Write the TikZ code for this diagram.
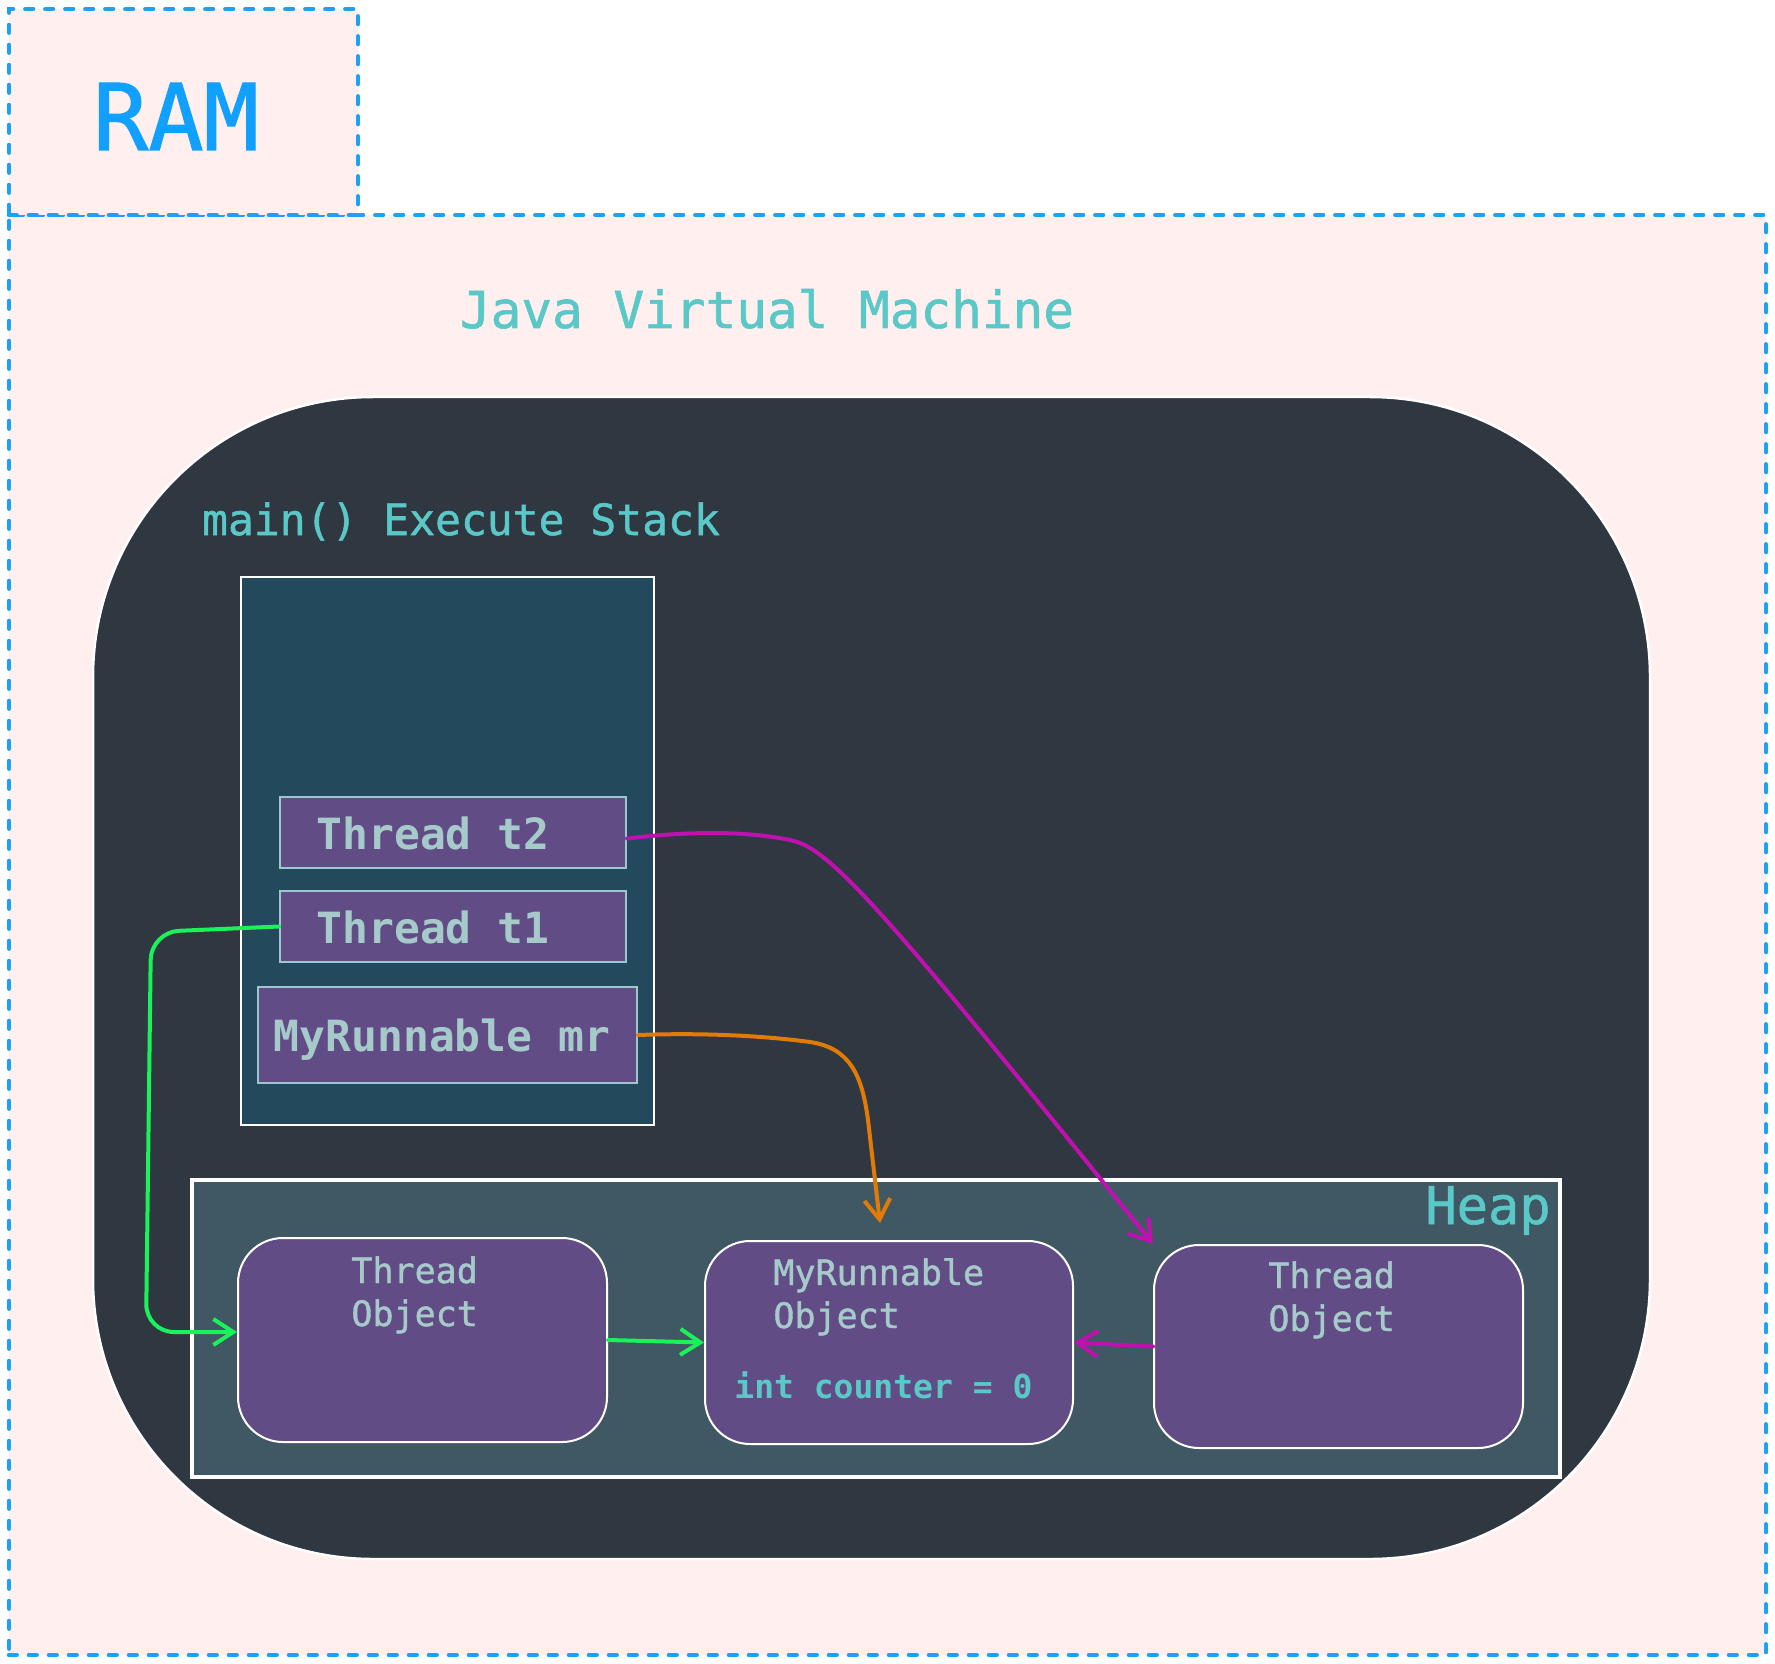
\documentclass[tikz,border=0pt]{standalone}
\usepackage{fontspec}
\setmonofont{DejaVu Sans Mono}
\newfontfamily\medmono[FakeBold=1.2]{DejaVu Sans Mono}
\usetikzlibrary{fit,arrows.meta,calc}
\definecolor{dashblue}{HTML}{1BA1F5}
\definecolor{ramblue}{HTML}{12A0FF}
\definecolor{pinkbg}{HTML}{FFEFEF}
\definecolor{coredark}{HTML}{2F3740}
\definecolor{stackblue}{HTML}{23495D}
\definecolor{purp}{HTML}{624C86}
\definecolor{varborder}{HTML}{9CC8CC}
\definecolor{lighttxt}{HTML}{A6CACA}
\definecolor{tealtxt}{HTML}{5BC8C8}
\definecolor{heapfill}{HTML}{3F5864}
\definecolor{refgreen}{HTML}{1AF25A}
\definecolor{refmagenta}{HTML}{C010B0}
\definecolor{reforange}{HTML}{E27A06}
\begin{document}
\begin{tikzpicture}[x=0.5pt,y=-0.5pt,
  dashbox/.style={draw=dashblue, fill=pinkbg, line width=2.3pt, dash pattern=on 3.8pt off 6.2pt, line cap=round, inner sep=0},
  core/.style={draw=white, fill=coredark, line width=1.25pt, rounded corners=140pt, inner sep=0},
  stackbox/.style={draw=white, fill=stackblue, line width=1pt, inner sep=0},
  varbox/.style={draw=varborder, fill=purp, line width=1pt, inner sep=0},
  heapbox/.style={draw=white, fill=heapfill, line width=2pt, inner sep=0},
  objbox/.style={draw=white, fill=purp, line width=1pt, rounded corners=22.5pt, inner sep=0},
  lbl/.style={text=lighttxt, font=\ttfamily\bfseries\fontsize{21.5}{26}\selectfont, inner sep=0},
  objlbl/.style={text=lighttxt, font=\medmono\fontsize{17.5}{21}\selectfont, inner sep=0},
  hdr/.style={text=tealtxt, inner sep=0},
  refarrow/.style={line width=2pt, line cap=round, -{Straight Barb[length=10pt,width=13pt]}}
]
\path[use as bounding box, fill=white] (0,0) rectangle (1775,1663);

% outer boxes
\node[dashbox, fit={(9,215)(1766,1655)}] (jvm) {};
\node[dashbox, fit={(9,9)(358,215)}] (ram) {};
\node[anchor=base, text=ramblue, inner sep=0, font=\medmono\fontsize{46}{50}\selectfont] (ramtxt) at (176,150) {RAM};
\node[hdr, anchor=base, font=\medmono\fontsize{25.5}{30}\selectfont] (jvmtxt) at (767,328) {Java Virtual Machine};

% JVM core
\node[core, fit={(93,397)(1650,1559)}] (core) {};
\node[hdr, anchor=base, font=\medmono\fontsize{21.5}{26}\selectfont] (stacktxt) at (461,535) {main() Execute Stack};

% stack
\node[stackbox, fit={(241,577)(654,1125)}] (stack) {};
\node[varbox, fit={(280,797)(626,868)}] (t2) {};
\node[varbox, fit={(280,891)(626,962)}] (t1) {};
\node[varbox, fit={(258,987)(637,1083)}] (mr) {};
\node[lbl, anchor=base] (t2txt) at (433,849) {Thread t2};
\node[lbl, anchor=base] (t1txt) at (433,943) {Thread t1};
\node[lbl, anchor=base] (mrtxt) at (442,1051) {MyRunnable mr};

% heap
\node[heapbox, fit={(192,1180)(1560,1477)}] (heap) {};
\node[hdr, anchor=base east, font=\medmono\fontsize{26}{30}\selectfont] (heaptxt) at (1551,1224) {Heap};
\node[objbox, fit={(238,1238)(607,1442)}] (lto) {};
\node[objbox, fit={(705,1241)(1073,1444)}] (mro) {};
\node[objbox, fit={(1154,1245)(1523,1448)}] (rto) {};
\node[objlbl, anchor=base west] (ltoa) at (351,1283) {Thread};
\node[objlbl, anchor=base west] (ltob) at (351,1326) {Object};
\node[objlbl, anchor=base west] (mroa) at (773,1285) {MyRunnable};
\node[objlbl, anchor=base west] (mrob) at (773,1328) {Object};
\node[text=tealtxt, inner sep=0, font=\ttfamily\bfseries\fontsize{16.5}{20}\selectfont, anchor=base west] (counter) at (734,1398) {int counter = 0};
\node[objlbl, anchor=base west] (rtoa) at (1268,1288) {Thread};
\node[objlbl, anchor=base west] (rtob) at (1268,1331) {Object};

% connectors
\coordinate (orEnd) at (880,1223);
\draw[refarrow, refgreen, rounded corners=14pt] (t1.west) -- (151,932) -- (146,1332) -- ([yshift=4pt]lto.west);
\draw[refarrow, refgreen] (lto.east) -- (mro.west);
\draw[refarrow, refmagenta] (rto.west) -- (mro.east);
\draw[refarrow, refmagenta] ($(t2.east)+(0,6)$) .. controls (700,830) and (750,832) .. (790,840) .. controls (830,848) and (880,905) .. (rto.north west);
\draw[refarrow, reforange] (mr.east) .. controls (720,1032) and (780,1038) .. (810,1042) .. controls (850,1048) and (862,1075) .. (868,1120) -- (orEnd);
\end{tikzpicture}
\end{document}
